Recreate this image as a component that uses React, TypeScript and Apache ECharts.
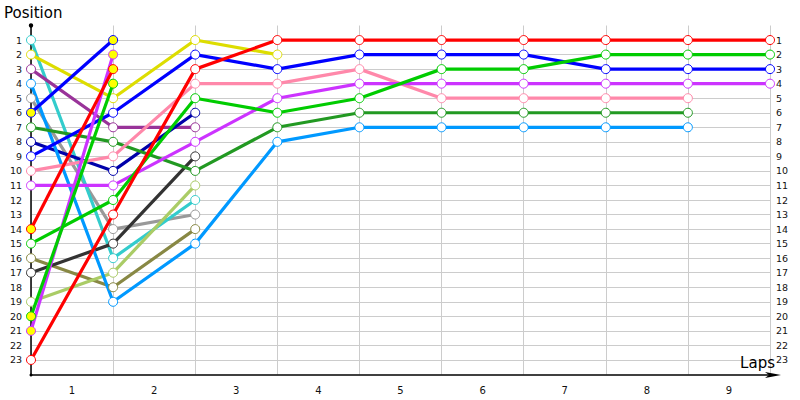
import React, { useEffect, useRef } from "react";
import * as echarts from "echarts";

const lapLabels = ["1", "2", "3", "4", "5", "6", "7", "8", "9"];

type Line = { name: string; color: string; start: number; pos: number[]; pit?: boolean };

const lines: Line[] = [
  { name: "Olive", color: "#888844", start: 0, pos: [16, 18, 14] },
  { name: "Gray", color: "#999999", start: 0, pos: [5, 14, 13] },
  { name: "Cyan", color: "#33CCCC", start: 0, pos: [1, 16, 12] },
  { name: "LightGreen", color: "#AACC66", start: 0, pos: [19, 17, 11] },
  { name: "Black", color: "#333333", start: 0, pos: [17, 15, 9] },
  { name: "Purple", color: "#993399", start: 0, pos: [3, 7, 7] },
  { name: "Navy", color: "#0000AA", start: 0, pos: [8, 10, 6] },
  { name: "Yellow", color: "#DDDD00", start: 0, pos: [2, 5, 1, 2] },
  { name: "LightBlue", color: "#0099FF", start: 0, pos: [4, 19, 15, 8, 7, 7, 7, 7, 7] },
  { name: "DarkGreen", color: "#229922", start: 0, pos: [7, 8, 10, 7, 6, 6, 6, 6, 6] },
  { name: "Pink", color: "#FF88AA", start: 0, pos: [10, 9, 4, 4, 3, 5, 5, 5, 5] },
  { name: "Violet", color: "#CC33FF", start: 0, pos: [11, 11, 8, 5, 4, 4, 4, 4, 4, 4] },
  { name: "Blue", color: "#0000FF", start: 0, pos: [9, 6, 2, 3, 2, 2, 2, 3, 3, 3] },
  { name: "Green", color: "#00CC00", start: 0, pos: [15, 12, 5, 6, 5, 3, 3, 2, 2, 2] },
  { name: "Red", color: "#FF0000", start: 0, pos: [23, 13, 3, 1, 1, 1, 1, 1, 1, 1] },
  { name: "BluePit", color: "#0000FF", start: 0, pos: [6, 1], pit: true },
  { name: "VioletPit", color: "#CC33FF", start: 0, pos: [21, 2], pit: true },
  { name: "RedPit", color: "#FF0000", start: 0, pos: [14, 3], pit: true },
  { name: "GreenPit", color: "#00CC00", start: 0, pos: [20, 4], pit: true },
];

const FONT = "DejaVu Sans";

export default function App() {
  const ref = useRef<HTMLDivElement>(null);
  useEffect(() => {
    if (!ref.current) return;
    const chart = echarts.init(ref.current, undefined, { renderer: "svg" });
    const splitColors = ["transparent", ...Array(23).fill("#cccccc"), "transparent"];
    const yLabel = (v: number) => (v >= 1 && v <= 23 ? String(v) : "");
    chart.setOption({
      animation: false,
      grid: { left: 31, right: 30, top: 25.5, bottom: 25.5, containLabel: false },
      xAxis: [
        {
          type: "value",
          min: 0,
          max: 9,
          interval: 1,
          axisLine: { show: false },
          axisTick: { show: false },
          axisLabel: { show: false },
          splitLine: { show: true, lineStyle: { color: "#cccccc", width: 1 } },
        },
        {
          type: "category",
          position: "bottom",
          data: lapLabels,
          boundaryGap: true,
          axisLine: { show: false },
          axisTick: { show: false },
          splitLine: { show: false },
          axisLabel: { margin: 11, fontFamily: FONT, fontSize: 10, color: "#111" },
        },
      ],
      yAxis: [
        {
          type: "value",
          inverse: true,
          min: 0,
          max: 24,
          interval: 1,
          axisLine: { show: true, lineStyle: { color: "#000", width: 1.5 } },
          axisTick: { show: false },
          axisLabel: { formatter: yLabel, margin: 9, fontFamily: FONT, fontSize: 9.5, color: "#111" },
          splitLine: { show: true, lineStyle: { color: splitColors, width: 1 } },
        },
        {
          type: "value",
          inverse: true,
          min: 0,
          max: 24,
          interval: 1,
          position: "right",
          axisLine: { show: false },
          axisTick: { show: false },
          axisLabel: { formatter: yLabel, margin: 6, fontFamily: FONT, fontSize: 9.5, color: "#111" },
          splitLine: { show: false },
        },
      ],
      series: lines.map((l) => ({
        name: l.name,
        type: "line",
        xAxisIndex: 0,
        yAxisIndex: 0,
        data: l.pos.map((p, i) => [l.start + i, p]),
        symbol: "circle",
        symbolSize: 9,
        showSymbol: true,
        lineStyle: { color: l.color, width: 3.2 },
        itemStyle: { color: l.pit ? "#FFFF00" : "#FFFFFF", borderColor: l.color, borderWidth: 1 },
        emphasis: { disabled: true },
        z: l.pit ? 3 : 2,
      })),
      graphic: [
        { type: "line", shape: { x1: 31, y1: 375, x2: 772, y2: 375 }, style: { stroke: "#000", lineWidth: 1.5 }, z: 10 },
        { type: "polygon", shape: { points: [[765, 372], [781, 375], [765, 378], [769, 375]] }, style: { fill: "#000" }, z: 10 },
        { type: "circle", shape: { cx: 31, cy: 25.5, r: 2.2 }, style: { fill: "#000" }, z: 10 },
        { type: "circle", shape: { cx: 31, cy: 375, r: 1.5 }, style: { fill: "#000" }, z: 10 },
        { type: "text", x: 4, y: 5, style: { text: "Position", fontFamily: FONT, fontSize: 15, fill: "#000", textAlign: "left", textVerticalAlign: "top" }, z: 10 },
        { type: "text", x: 775, y: 355, style: { text: "Laps", fontFamily: FONT, fontSize: 15, fill: "#000", textAlign: "right", textVerticalAlign: "top" }, z: 10 },
      ],
    });
    return () => chart.dispose();
  }, []);
  return (
    <div
      ref={ref}
      style={{ position: "absolute", left: 0, top: 0, width: 800, height: 400 }}
    />
  );
}
